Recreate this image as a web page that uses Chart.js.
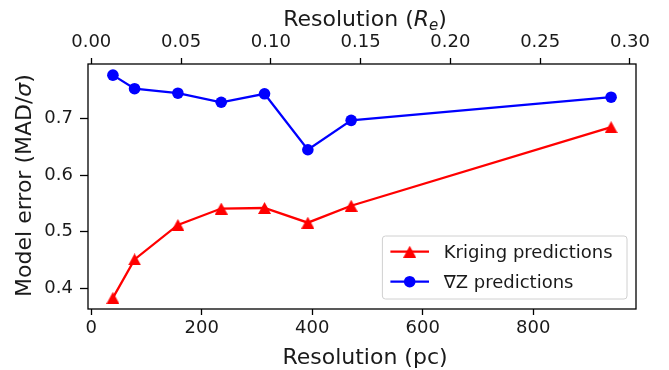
<!DOCTYPE html>
<html><head><meta charset="utf-8">
<script src="https://cdn.jsdelivr.net/npm/chart.js@4/dist/chart.umd.min.js"></script>
<style>html,body{margin:0;padding:0;background:#fff}canvas{display:block}</style>
</head><body>
<canvas id="c" width="669" height="370" style="width:669px;height:370px"></canvas>
<script>
// ---- data ----
const resolutionPc = [39.2, 78.4, 156.8, 235.2, 313.6, 392, 470.4, 940.8];
const krigingError = [0.383, 0.451, 0.512, 0.541, 0.542, 0.516, 0.546, 0.685];
const gradZError   = [0.777, 0.753, 0.745, 0.729, 0.744, 0.645, 0.697, 0.738];
const seriesLabels = ['Kriging predictions', '\u2207Z predictions'];
const xTicksPc = [0, 200, 400, 600, 800];
const xTicksRe = [0.00, 0.05, 0.10, 0.15, 0.20, 0.25, 0.30];
const yTicks   = [0.4, 0.5, 0.6, 0.7];
const pcPerRe = 3250;            // conversion for the top (R_e) axis

// matplotlib-like 5% autoscale margins
function padRange(arr) {
  const lo = Math.min(...arr), hi = Math.max(...arr), m = (hi - lo) * 0.05;
  return [lo - m, hi + m];
}
const [xMin, xMax] = padRange(resolutionPc);
const [yMin, yMax] = padRange(krigingError.concat(gradZError));

const FONT = "'DejaVu Sans', 'Liberation Sans', sans-serif";
const RED = '#ff0000', BLUE = '#0000ff';

function triangleCanvas(color, w, h) {
  const c = document.createElement('canvas');
  c.width = w; c.height = h;
  const g = c.getContext('2d');
  g.fillStyle = color;
  g.beginPath();
  g.moveTo(w / 2, 0); g.lineTo(w, h); g.lineTo(0, h); g.closePath();
  g.fill();
  return c;
}
const redTri = triangleCanvas(RED, 13, 12);

function toPts(xs, ys) { return xs.map((x, i) => ({ x: x, y: ys[i] })); }
function fixedTicks(arr) { return s => { s.ticks = arr.map(v => ({ value: v })); }; }

function drawSegments(ctx, segs, x, y, align) {
  let total = 0;
  segs.forEach(s => { ctx.font = s.font; s.w = ctx.measureText(s.text).width; total += s.w; });
  let cx = align === 'center' ? x - total / 2 : x;
  ctx.textAlign = 'left';
  ctx.textBaseline = 'alphabetic';
  segs.forEach(s => { ctx.font = s.font; ctx.fillText(s.text, cx, y + (s.dy || 0)); cx += s.w; });
}

const decorPlugin = {
  id: 'decor',
  afterDraw(chart) {
    const ctx = chart.ctx, a = chart.chartArea;
    ctx.save();
    // frame (spines)
    ctx.strokeStyle = '#000'; ctx.lineWidth = 1.3;
    ctx.strokeRect(a.left, a.top, a.right - a.left, a.bottom - a.top);
    ctx.fillStyle = '#1a1a1a';
    const big = '22px ' + FONT, bigI = 'italic 22px ' + FONT, sub = 'italic 15px ' + FONT;
    const cx = (a.left + a.right) / 2 + 3;
    // bottom title
    drawSegments(ctx, [{ text: 'Resolution (pc)', font: big }], cx, 364, 'center');
    // top title
    drawSegments(ctx, [
      { text: 'Resolution (', font: big },
      { text: 'R', font: bigI },
      { text: 'e', font: sub, dy: 4 },
      { text: ')', font: big }
    ], cx, 26, 'center');
    // y title
    ctx.save();
    ctx.translate(31, (a.top + a.bottom) / 2 - 1);
    ctx.rotate(-Math.PI / 2);
    drawSegments(ctx, [
      { text: 'Model error (MAD/', font: big },
      { text: '\u03C3', font: bigI },
      { text: ')', font: big }
    ], 0, 0, 'center');
    ctx.restore();
    // legend
    const bx1 = a.right - 9, by1 = a.bottom - 10, bx0 = bx1 - 244.6, by0 = by1 - 63;
    ctx.beginPath();
    if (ctx.roundRect) ctx.roundRect(bx0, by0, bx1 - bx0, by1 - by0, 3); else ctx.rect(bx0, by0, bx1 - bx0, by1 - by0);
    ctx.fillStyle = 'rgba(255,255,255,0.85)';
    ctx.fill();
    ctx.strokeStyle = '#d0d0d0'; ctx.lineWidth = 1;
    ctx.stroke();
    const rows = [
      { y: by0 + 15.7, color: RED, tri: true, label: chart.data.datasets[0].label, base: by0 + 22.3 },
      { y: by0 + 45.7, color: BLUE, tri: false, label: chart.data.datasets[1].label, base: by0 + 52 }
    ];
    rows.forEach(r => {
      ctx.strokeStyle = r.color; ctx.lineWidth = 2.3;
      ctx.beginPath(); ctx.moveTo(bx0 + 8, r.y); ctx.lineTo(bx0 + 46.6, r.y); ctx.stroke();
      const mx = bx0 + 27.3;
      if (r.tri) ctx.drawImage(redTri, mx - 6.5, r.y - 6);
      else { ctx.fillStyle = r.color; ctx.beginPath(); ctx.arc(mx, r.y, 5.8, 0, Math.PI * 2); ctx.fill(); }
      ctx.fillStyle = '#1a1a1a';
      ctx.font = '18px ' + FONT; ctx.textAlign = 'left'; ctx.textBaseline = 'alphabetic';
      ctx.fillText(r.label, bx0 + 61.3, r.base);
    });
    ctx.restore();
  }
};

const tickFont = { family: FONT, size: 18 };
new Chart(document.getElementById('c'), {
  type: 'line',
  data: {
    datasets: [
      { label: seriesLabels[0], data: toPts(resolutionPc, krigingError), borderColor: RED, backgroundColor: RED,
        borderWidth: 2.3, pointStyle: redTri, pointRadius: 6, pointBorderWidth: 0, tension: 0, fill: false, order: 2 },
      { label: seriesLabels[1], data: toPts(resolutionPc, gradZError), borderColor: BLUE, backgroundColor: BLUE,
        borderWidth: 2.3, pointStyle: 'circle', pointRadius: 5.8, pointBorderWidth: 0, tension: 0, fill: false, order: 1 }
    ]
  },
  options: {
    responsive: false, animation: false, devicePixelRatio: 1,
    layout: { padding: { left: 0, right: 33, top: 0, bottom: 0 } },
    plugins: { legend: { display: false }, tooltip: { enabled: false } },
    scales: {
      x: {
        type: 'linear', position: 'bottom', min: xMin, max: xMax,
        afterFit: s => { s.height = 61; },
        afterBuildTicks: fixedTicks(xTicksPc),
        border: { display: false },
        grid: { display: true, drawOnChartArea: false, drawTicks: true, tickLength: 6, tickWidth: 1.3, tickColor: '#000' },
        ticks: { font: tickFont, color: '#1a1a1a', padding: 3, maxRotation: 0, autoSkip: false,
                 callback: v => String(Math.round(v)) }
      },
      x2: {
        type: 'linear', axis: 'x', position: 'top', min: xMin / pcPerRe, max: xMax / pcPerRe,
        afterFit: s => { s.height = 64; },
        afterBuildTicks: fixedTicks(xTicksRe),
        border: { display: false },
        grid: { display: true, drawOnChartArea: false, drawTicks: true, tickLength: 6, tickWidth: 1.3, tickColor: '#000' },
        ticks: { font: tickFont, color: '#1a1a1a', padding: 5, maxRotation: 0, autoSkip: false,
                 callback: v => v.toFixed(2) }
      },
      y: {
        type: 'linear', position: 'left', min: yMin, max: yMax,
        afterFit: s => { s.width = 88; },
        afterBuildTicks: fixedTicks(yTicks),
        border: { display: false },
        grid: { display: true, drawOnChartArea: false, drawTicks: true, tickLength: 8, tickWidth: 1.3, tickColor: '#000' },
        ticks: { font: tickFont, color: '#1a1a1a', padding: 7,
                 callback: v => v.toFixed(1) }
      }
    }
  },
  plugins: [decorPlugin]
});
</script>
</body></html>
